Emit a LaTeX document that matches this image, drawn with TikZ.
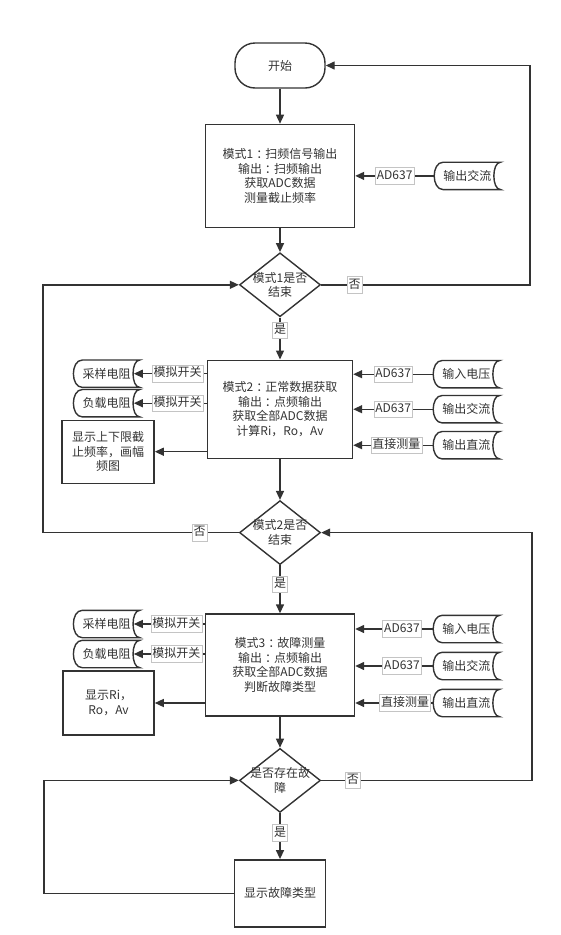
\documentclass[tikz,border=0pt]{standalone}
\usepackage{fontspec}
\setmainfont{Noto Sans CJK SC}
\usetikzlibrary{positioning,shapes.geometric,arrows.meta}
\definecolor{ink}{HTML}{333333}
\definecolor{tagline}{HTML}{C4C4C4}

% centred full-width colon
\newcommand{\fullcolon}{\kern3pt：\kern-3pt}
% outline of a data source: round on the left, hollow on the right
\newcommand{\DrawStore}[1]{%
	\draw[LineStyle] ([xshift=9pt]#1.north west) -- (#1.north east)
	.. controls ([xshift=-9pt]#1.north east) and ([xshift=-9pt]#1.south east) .. (#1.south east)
	-- ([xshift=9pt]#1.south west)
	.. controls ([xshift=-3pt]#1.south west) and ([xshift=-3pt]#1.north west) .. ([xshift=9pt]#1.north west) -- cycle;}

\begin{document}
\begin{tikzpicture}[x=1pt,y=-1pt]
\tikzset{Base/.style = {font=\fontsize{12}{14.7}\selectfont, text=ink},
	StartStyle/.style = {Base, draw=ink, line width=1.4pt, rectangle,
		rounded corners=20pt, minimum width=90pt, minimum height=45pt},
	ModeStyle/.style = {Base, draw=ink, line width=1.4pt, rectangle,
		align=center, inner sep=0pt},
	DecStyle/.style = {Base, draw=ink, line width=1.4pt, diamond, align=center,
		inner sep=-12pt, minimum width=81pt, minimum height=64pt},
	StoreStyle/.style = {Base, rectangle, inner sep=0pt,
		minimum width=66pt, minimum height=27pt},
	TagStyle/.style = {Base, draw=tagline, fill=white, inner xsep=1.5pt, inner ysep=2.5pt,
		text height=9pt, text depth=2.5pt, line width=0.6pt},
	LineStyle/.style = {draw=ink, line width=1.4pt},
	EdgeStyle/.style = {LineStyle, -{Triangle[length=9pt,width=8pt]}}}
\useasboundingbox (0,0) rectangle (560,935);

% main column
\node[StartStyle] (start) at (280,65.5) {开始};
\node[ModeStyle, minimum width=149pt, minimum height=103pt, below=35pt of start] (mode1)
	{模式1\fullcolon 扫频信号输出\\输出\fullcolon 扫频输出\\获取ADC数据\\测量截止频率};
\node[DecStyle, below=24pt of mode1] (dec1) {模式1是否\\结束};
\node[ModeStyle, minimum width=145pt, minimum height=98pt, below=42pt of dec1] (mode2)
	{模式2\fullcolon 正常数据获取\\输出\fullcolon 点频输出\\获取全部ADC数据\\计算Ri，Ro，Av};
\node[DecStyle, below=41pt of mode2] (dec2) {模式2是否\\结束};
\node[ModeStyle, minimum width=149pt, minimum height=102pt, below=48pt of dec2] (mode3)
	{模式3\fullcolon 故障测量\\输出\fullcolon 点频输出\\获取全部ADC数据\\判断故障类型};
\node[DecStyle, below=31pt of mode3] (dec3) {是否存在故\\障};
\node[ModeStyle, minimum width=91pt, minimum height=67pt, below=46pt of dec3] (final) {显示故障类型};

% mode 1 input
\node[StoreStyle, right=79pt of mode1] (iac1) {输出交流};
\DrawStore{iac1}
\draw[EdgeStyle] (iac1) -- node[TagStyle]{AD637} (mode1);

% mode 2 inputs and outputs
\node[StoreStyle, right=80pt of mode2.east, yshift=35pt] (vin2) {输入电压};
\node[StoreStyle, right=80pt of mode2.east] (iac2) {输出交流};
\node[StoreStyle, right=80pt of mode2.east, yshift=-36pt] (idc2) {输出直流};
\node[StoreStyle, left=67pt of mode2.west, yshift=35.5pt] (rs2) {采样电阻};
\node[StoreStyle, left=67pt of mode2.west, yshift=6pt] (rl2) {负载电阻};
\node[ModeStyle, minimum width=92pt, minimum height=63pt, left=52pt of mode2.west, yshift=-42.5pt] (show2)
	{显示上下限截\\止频率，画幅\\频图};
\DrawStore{vin2} \DrawStore{iac2} \DrawStore{idc2}
\DrawStore{rs2} \DrawStore{rl2}
\draw[EdgeStyle] (vin2.west) -- node[TagStyle]{AD637} (vin2.west -| mode2.east);
\draw[EdgeStyle] (iac2.west) -- node[TagStyle]{AD637} (iac2.west -| mode2.east);
\draw[EdgeStyle] (idc2.west) -- node[TagStyle, pos=0.46]{直接测量} (idc2.west -| mode2.east);
\draw[EdgeStyle] (rs2.east -| mode2.west) -- node[TagStyle, pos=0.4]{模拟开关} ([xshift=-6pt]rs2.east);
\draw[EdgeStyle] (rl2.east -| mode2.west) -- node[TagStyle, pos=0.4]{模拟开关} ([xshift=-6pt]rl2.east);
\draw[EdgeStyle] (show2.east -| mode2.west) -- (show2.east);

% mode 3 inputs and outputs
\node[StoreStyle, right=78pt of mode3.east, yshift=36pt] (vin3) {输入电压};
\node[StoreStyle, right=78pt of mode3.east, yshift=-1pt] (iac3) {输出交流};
\node[StoreStyle, right=78pt of mode3.east, yshift=-38pt] (idc3) {输出直流};
\node[StoreStyle, left=65pt of mode3.west, yshift=41pt] (rs3) {采样电阻};
\node[StoreStyle, left=65pt of mode3.west, yshift=11pt] (rl3) {负载电阻};
\node[ModeStyle, minimum width=91pt, minimum height=64pt, left=50pt of mode3.west, yshift=-38pt] (show3)
	{显示Ri，\\Ro，Av};
\DrawStore{vin3} \DrawStore{iac3} \DrawStore{idc3}
\DrawStore{rs3} \DrawStore{rl3}
\draw[EdgeStyle] (vin3.west) -- node[TagStyle, pos=0.4]{AD637} (vin3.west -| mode3.east);
\draw[EdgeStyle] (iac3.west) -- node[TagStyle, pos=0.4]{AD637} (iac3.west -| mode3.east);
\draw[EdgeStyle] (idc3.west) -- node[TagStyle, pos=0.36]{直接测量} (idc3.west -| mode3.east);
\draw[EdgeStyle] (rs3.east -| mode3.west) -- node[TagStyle, pos=0.4]{模拟开关} ([xshift=-6pt]rs3.east);
\draw[EdgeStyle] (rl3.east -| mode3.west) -- node[TagStyle, pos=0.4]{模拟开关} ([xshift=-6pt]rl3.east);
\draw[EdgeStyle] (show3.east -| mode3.west) -- (show3.east);

% flow down the column
\draw[EdgeStyle] (start) -- (mode1);
\draw[EdgeStyle] (mode1) -- (dec1);
\draw[EdgeStyle] (dec1.south) -- node[TagStyle, pos=0.3]{是} (mode2.north);
\draw[EdgeStyle] (mode2) -- (dec2);
\draw[EdgeStyle] (dec2.south) -- node[TagStyle, pos=0.4]{是} (mode3.north);
\draw[EdgeStyle] (mode3) -- (dec3);
\draw[EdgeStyle] (dec3.south) -- node[TagStyle, pos=0.43]{是} (final.north);

% loops back
\coordinate (east1) at (530,0);
\coordinate (west1) at (43,0);
\coordinate (east2) at (532,0);
\coordinate (west2) at (44,0);
\draw[EdgeStyle] (dec1.east) -- node[TagStyle, pos=0.16]{否} (dec1.east -| east1) |- (start.east);
\draw[EdgeStyle] (dec2.west) -- node[TagStyle, pos=0.2]{否} (dec2.west -| west1) |- (dec1.west);
\draw[EdgeStyle] (dec3.east) -- node[TagStyle, pos=0.15]{否} (dec3.east -| east2) |- (dec2.east);
\draw[EdgeStyle] (final.west) -- (final.west -| west2) |- (dec3.west);
\end{tikzpicture}
\end{document}
